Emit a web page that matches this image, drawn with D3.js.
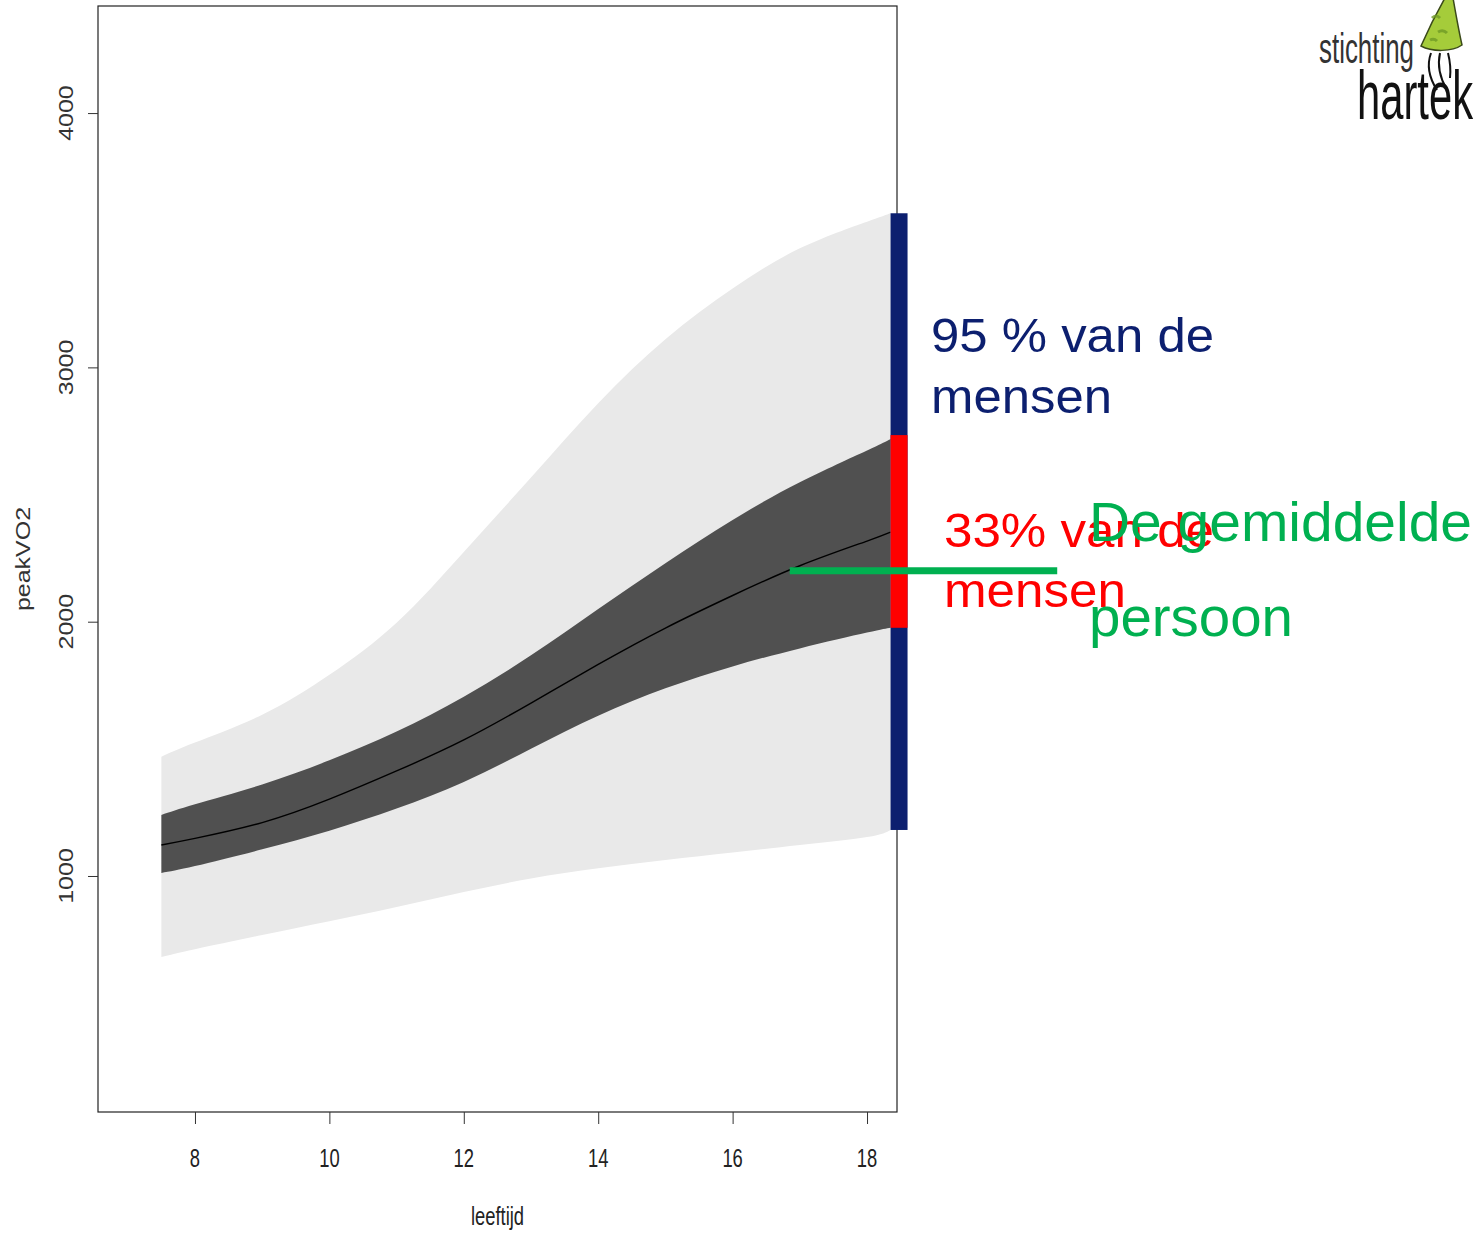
<!DOCTYPE html>
<html>
<head>
<meta charset="utf-8">
<script src="https://cdn.jsdelivr.net/npm/d3@7"></script>
<style>
  html, body { margin: 0; padding: 0; background: #ffffff; }
  svg { display: block; }
</style>
</head>
<body>
<svg id="chart" width="1479" height="1234"></svg>
<script>
// Leeftijd (jaren) en peakVO2-referentiebanden
const ages       = [7.5, 8, 9, 10, 11, 12, 13, 14, 15, 16, 17, 18, 18.35];
const outerUpper = [1469, 1525, 1634, 1791, 1996, 2274, 2567, 2859, 3111, 3310, 3468, 3573, 3606];
const outerLower = [681, 712, 768, 822, 878, 937, 990, 1030, 1063, 1092, 1122, 1153, 1181];
const innerUpper = [1240, 1282, 1360, 1455, 1568, 1705, 1868, 2050, 2230, 2400, 2548, 2673, 2718];
const innerLower = [1012, 1039, 1105, 1178, 1265, 1370, 1500, 1630, 1738, 1824, 1895, 1957, 1976];
const meanLine   = [1122, 1148, 1210, 1302, 1413, 1535, 1680, 1832, 1975, 2103, 2220, 2317, 2352];

const xTicks = [8, 10, 12, 14, 16, 18];
const yTicks = [1000, 2000, 3000, 4000];

// Gemiddelde persoon: horizontale markering
const avgValue = 2200;
const avgFromAge = 16.85;
const avgToAge = 20.83;

const svg = d3.select("#chart");
const plot = { left: 98, right: 897, top: 6, bottom: 1112 };

const x = d3.scaleLinear().domain([6.557, 18.446]).range([plot.left, plot.right]);
const y = d3.scaleLinear().domain([72, 4421]).range([plot.bottom, plot.top]);

const rows = ages.map((a, i) => ({
  age: a, ou: outerUpper[i], ol: outerLower[i],
  iu: innerUpper[i], il: innerLower[i], m: meanLine[i]
}));

const curve = d3.curveNatural;

// 95%-band
svg.append("path")
  .datum(rows)
  .attr("fill", "#e9e9e9")
  .attr("d", d3.area().curve(curve).x(d => x(d.age)).y0(d => y(d.ol)).y1(d => y(d.ou)));

// 33%-band
svg.append("path")
  .datum(rows)
  .attr("fill", "#505050")
  .attr("d", d3.area().curve(curve).x(d => x(d.age)).y0(d => y(d.il)).y1(d => y(d.iu)));

// gemiddelde lijn
svg.append("path")
  .datum(rows)
  .attr("fill", "none")
  .attr("stroke", "#000")
  .attr("stroke-width", 1.4)
  .attr("d", d3.line().curve(curve).x(d => x(d.age)).y(d => y(d.m)));

// kader
svg.append("rect")
  .attr("x", plot.left).attr("y", plot.top)
  .attr("width", plot.right - plot.left).attr("height", plot.bottom - plot.top)
  .attr("fill", "none").attr("stroke", "#222").attr("stroke-width", 1.2);

// assen (labels apart getekend, uitgerekt zoals de plot)
const xAxis = svg.append("g")
  .attr("transform", `translate(0,${plot.bottom})`)
  .call(d3.axisBottom(x).tickValues(xTicks).tickSize(12).tickFormat(""));
xAxis.select(".domain").remove();
xAxis.selectAll("line").attr("stroke", "#333").attr("stroke-width", 1);

const yAxis = svg.append("g")
  .attr("transform", `translate(${plot.left},0)`)
  .call(d3.axisLeft(y).tickValues(yTicks).tickSize(10).tickFormat(""));
yAxis.select(".domain").remove();
yAxis.selectAll("line").attr("stroke", "#333").attr("stroke-width", 1);

const axisFont = "'Liberation Sans', Arial, sans-serif";
const stretch = 1.25;

svg.append("g").selectAll("text")
  .data(xTicks).join("text")
  .attr("transform", d => `translate(${x(d)},1167) scale(0.92,${stretch})`)
  .attr("text-anchor", "middle")
  .attr("font-family", axisFont).attr("font-size", 20).attr("fill", "#222")
  .text(d => d);

svg.append("g").selectAll("text")
  .data(yTicks).join("text")
  .attr("transform", d => `translate(73,${y(d)}) scale(1,${stretch}) rotate(-90)`)
  .attr("text-anchor", "middle")
  .attr("font-family", axisFont).attr("font-size", 20).attr("fill", "#333")
  .text(d => d);

svg.append("text")
  .attr("transform", `translate(${(plot.left + plot.right) / 2},1225) scale(0.92,${stretch})`)
  .attr("text-anchor", "middle")
  .attr("font-family", axisFont).attr("font-size", 20).attr("fill", "#222")
  .text("leeftijd");

svg.append("text")
  .attr("transform", `translate(30,${(plot.top + plot.bottom) / 2}) scale(1,${stretch}) rotate(-90)`)
  .attr("text-anchor", "middle")
  .attr("font-family", axisFont).attr("font-size", 20).attr("fill", "#333")
  .text("peakVO2");

// balken aan de rechterkant: 95% en 33%
const last = rows[rows.length - 1];
const barX = x(last.age);
const barW = 17;
svg.append("rect")
  .attr("x", barX).attr("width", barW)
  .attr("y", y(last.ou)).attr("height", y(last.ol) - y(last.ou))
  .attr("fill", "#0c1f6f");
svg.append("rect")
  .attr("x", barX).attr("width", barW)
  .attr("y", y(last.iu) - 4).attr("height", y(last.il) - y(last.iu) + 4)
  .attr("fill", "#ff0000");

// toelichtingen
const noteFont = "'Liberation Sans', Arial, sans-serif";
function note(lines, color, size, xPos, baselines, widths) {
  lines.forEach((t, i) => {
    const el = svg.append("text")
      .attr("x", xPos).attr("y", baselines[i])
      .attr("font-family", noteFont).attr("font-size", size)
      .attr("fill", color).text(t);
    if (widths && widths[i]) el.attr("textLength", widths[i]).attr("lengthAdjust", "spacingAndGlyphs");
  });
}
note(["95 % van de", "mensen"], "#0c1f6f", 48, 931, [352, 413], [283, 181]);
note(["33% van de", "mensen"], "#ff0000", 48, 944, [547, 607], [270, 182]);

// gemiddelde persoon
svg.append("line")
  .attr("x1", x(avgFromAge)).attr("x2", x(avgToAge))
  .attr("y1", y(avgValue)).attr("y2", y(avgValue))
  .attr("stroke", "#00b050").attr("stroke-width", 7);
note(["De gemiddelde", "persoon"], "#00b050", 56, 1089, [541, 636], [383, 204]);

// logo
const logo = svg.append("g");
logo.append("path")
  .attr("d", "M1421,46 C1428,30 1437,12 1445,-2 L1453,-2 C1456,15 1459,32 1462,45 C1452,52 1432,52 1421,46 Z")
  .attr("fill", "#a5cc3a").attr("stroke", "#3b4a1a").attr("stroke-width", 1.5);
logo.append("path")
  .attr("d", "M1432,18 q4,-4 8,0 M1438,32 q5,-3 9,1 M1430,40 q4,-2 7,1")
  .attr("fill", "none").attr("stroke", "#6f9a25").attr("stroke-width", 3).attr("opacity", 0.8);
logo.append("path")
  .attr("d", "M1431,53 C1427,64 1428,76 1437,90 M1440,53 C1437,66 1440,78 1447,90 M1448,53 C1450,61 1451,69 1450,78")
  .attr("fill", "none").attr("stroke", "#111").attr("stroke-width", 2);
logo.append("text")
  .attr("x", 1319).attr("y", 63)
  .attr("font-family", "'Liberation Sans', Arial, sans-serif").attr("font-size", 42)
  .attr("fill", "#333").attr("textLength", 95).attr("lengthAdjust", "spacingAndGlyphs")
  .text("stichting");
logo.append("text")
  .attr("x", 1357).attr("y", 119)
  .attr("font-family", "'Liberation Sans', Arial, sans-serif").attr("font-size", 68)
  .attr("fill", "#111").attr("textLength", 116).attr("lengthAdjust", "spacingAndGlyphs")
  .text("hartek");
</script>
</body>
</html>
